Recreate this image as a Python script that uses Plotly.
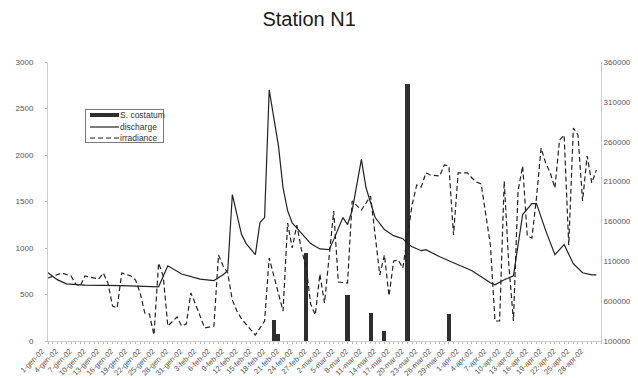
import plotly.graph_objects as go

# ---------------- data ----------------
bar_dates = ["2002-02-19", "2002-02-20", "2002-02-26", "2002-03-07", "2002-03-12",
             "2002-03-15", "2002-03-20", "2002-03-29"]
costatum = [230, 75, 950, 500, 300, 110, 2760, 290]

discharge_dates = [
    "2002-01-01", "2002-01-03", "2002-01-05", "2002-01-09", "2002-01-17", "2002-01-25",
    "2002-01-27", "2002-01-30", "2002-02-03", "2002-02-06", "2002-02-08", "2002-02-09",
    "2002-02-10", "2002-02-12", "2002-02-13", "2002-02-15", "2002-02-16", "2002-02-17",
    "2002-02-18", "2002-02-20", "2002-02-21", "2002-02-22", "2002-02-23", "2002-02-25",
    "2002-02-27", "2002-03-01", "2002-03-03", "2002-03-04", "2002-03-06", "2002-03-07",
    "2002-03-08", "2002-03-10", "2002-03-11", "2002-03-13", "2002-03-15", "2002-03-17",
    "2002-03-19", "2002-03-20", "2002-03-21", "2002-03-23", "2002-03-24", "2002-03-27",
    "2002-03-31", "2002-04-03", "2002-04-07", "2002-04-08", "2002-04-10", "2002-04-12",
    "2002-04-14", "2002-04-16", "2002-04-17", "2002-04-19", "2002-04-21", "2002-04-23",
    "2002-04-25", "2002-04-27", "2002-04-29", "2002-04-30"]
discharge = [
    734, 660, 615, 600, 595, 583,
    809, 720, 665, 650, 712, 755,
    1575, 1144, 1047, 928, 1273, 1327,
    2700, 2100, 1650, 1400, 1270, 1155,
    1047, 990, 982, 1090, 1327, 1252,
    1403, 1953, 1650, 1327, 1198, 1133,
    1100, 1047, 1014, 971, 982, 906,
    820, 755, 626, 604, 658, 701,
    1360, 1478, 1478, 1187, 928, 1036,
    831, 734, 712, 712]

irradiance_dates = [
    "2002-01-01", "2002-01-04", "2002-01-06", "2002-01-07", "2002-01-08", "2002-01-09",
    "2002-01-12", "2002-01-13", "2002-01-14", "2002-01-15", "2002-01-16", "2002-01-17",
    "2002-01-19", "2002-01-20", "2002-01-21", "2002-01-22", "2002-01-23", "2002-01-24",
    "2002-01-25", "2002-01-26", "2002-01-27", "2002-01-29", "2002-01-30", "2002-01-31",
    "2002-02-01", "2002-02-02", "2002-02-04", "2002-02-06", "2002-02-07", "2002-02-08",
    "2002-02-09", "2002-02-10", "2002-02-11", "2002-02-12", "2002-02-15", "2002-02-17",
    "2002-02-18", "2002-02-21", "2002-02-22", "2002-02-23", "2002-02-24", "2002-02-25",
    "2002-02-26", "2002-02-27", "2002-02-28", "2002-03-01", "2002-03-02", "2002-03-04",
    "2002-03-05", "2002-03-07", "2002-03-08", "2002-03-10", "2002-03-12", "2002-03-14",
    "2002-03-15", "2002-03-16", "2002-03-17", "2002-03-18", "2002-03-19", "2002-03-20",
    "2002-03-21", "2002-03-22", "2002-03-23", "2002-03-24", "2002-03-25", "2002-03-27",
    "2002-03-28", "2002-03-29", "2002-03-30", "2002-03-31", "2002-04-02", "2002-04-03",
    "2002-04-04", "2002-04-05", "2002-04-07", "2002-04-08", "2002-04-09", "2002-04-10",
    "2002-04-11", "2002-04-12", "2002-04-13", "2002-04-14", "2002-04-15", "2002-04-16",
    "2002-04-17", "2002-04-18", "2002-04-19", "2002-04-20", "2002-04-21", "2002-04-22",
    "2002-04-23", "2002-04-24", "2002-04-25", "2002-04-26", "2002-04-27", "2002-04-28",
    "2002-04-29", "2002-04-30"]
irradiance = [
    8900000, 9530000, 9150000, 8150000, 7900000, 9150000,
    8780000, 9530000, 8280000, 5390000, 5140000, 9530000,
    9150000, 8650000, 7020000, 4510000, 4390000, 1750000,
    10780000, 9150000, 2880000, 4010000, 2880000, 3130000,
    7020000, 5640000, 2630000, 2880000, 11790000, 10410000,
    9530000, 6140000, 4760000, 3760000, 1750000, 3510000,
    11410000, 4760000, 15800000, 12670000, 15550000, 12420000,
    10410000, 5640000, 4260000, 9400000, 5770000, 17310000,
    8400000, 8280000, 18560000, 17430000, 19190000, 9280000,
    11790000, 6650000, 11040000, 11160000, 10160000, 13920000,
    18060000, 20570000, 20320000, 22080000, 21820000, 21700000,
    23080000, 22950000, 14300000, 22080000, 22080000, 21450000,
    20950000, 20700000, 13040000, 3510000, 3510000, 21070000,
    10530000, 3510000, 19820000, 22950000, 14170000, 13920000,
    18940000, 25210000, 23330000, 22080000, 20190000, 26210000,
    26840000, 13040000, 27720000, 26840000, 18560000, 24210000,
    20820000, 22450000]

tick_dates = [
    "2002-01-01", "2002-01-04", "2002-01-07", "2002-01-10", "2002-01-13", "2002-01-16",
    "2002-01-19", "2002-01-22", "2002-01-25", "2002-01-28", "2002-01-31", "2002-02-03",
    "2002-02-06", "2002-02-09", "2002-02-12", "2002-02-15", "2002-02-18", "2002-02-21",
    "2002-02-24", "2002-02-27", "2002-03-02", "2002-03-05", "2002-03-08", "2002-03-11",
    "2002-03-14", "2002-03-17", "2002-03-20", "2002-03-23", "2002-03-26", "2002-03-29",
    "2002-04-01", "2002-04-04", "2002-04-07", "2002-04-10", "2002-04-13", "2002-04-16",
    "2002-04-19", "2002-04-22", "2002-04-25", "2002-04-28"]
tick_labels = [
    "1-gen-02", "4-gen-02", "7-gen-02", "10-gen-02", "13-gen-02", "16-gen-02",
    "19-gen-02", "22-gen-02", "25-gen-02", "28-gen-02", "31-gen-02", "3-feb-02",
    "6-feb-02", "9-feb-02", "12-feb-02", "15-feb-02", "18-feb-02", "21-feb-02",
    "24-feb-02", "27-feb-02", "2-mar-02", "5-mar-02", "8-mar-02", "11-mar-02",
    "14-mar-02", "17-mar-02", "20-mar-02", "23-mar-02", "26-mar-02", "29-mar-02",
    "1-apr-02", "4-apr-02", "7-apr-02", "10-apr-02", "13-apr-02", "16-apr-02",
    "19-apr-02", "22-apr-02", "25-apr-02", "28-apr-02"]

left_ticks = [0, 500, 1000, 1500, 2000, 2500, 3000]
right_ticks = [1000000, 6000000, 11000000, 16000000, 21000000, 26000000, 31000000, 36000000]

legend_names = ["S. costatum", "discharge", "irradiance"]

# ---------------- figure ----------------
FONT = "Liberation Sans, Arial, sans-serif"
INK = "#222222"
AXIS = "#b8b8b8"
TICKFONT = dict(family=FONT, size=8, color="#555555")

fig = go.Figure()
fig.add_trace(go.Bar(
    x=bar_dates, y=costatum, name=legend_names[0],
    marker=dict(color="#2e2e2e", line=dict(width=0)),
    width=0.9 * 86400000, yaxis="y", showlegend=False))
fig.add_trace(go.Scatter(
    x=discharge_dates, y=discharge, name=legend_names[1], mode="lines",
    line=dict(color=INK, width=1.2), yaxis="y", showlegend=False))
fig.add_trace(go.Scatter(
    x=irradiance_dates, y=irradiance, name=legend_names[2], mode="lines",
    line=dict(color=INK, width=1.2, dash="5px,3px"), yaxis="y2", showlegend=False))

# compact legend box (drawn in paper coordinates, like the spreadsheet legend)
W, H = 553.0, 279.0          # plot area size in px
def px(x):                   # pixel (from plot left) -> paper x
    return x / W
def py(y):                   # pixel (from plot top) -> paper y
    return 1 - y / H

rows_y = [py(53), py(65), py(76)]
sym_x0, sym_x1, txt_x = px(42), px(71), px(70)

shapes = [
    dict(type="rect", xref="paper", yref="paper",
         x0=sym_x0, x1=sym_x1, y0=rows_y[0] - 2 / H, y1=rows_y[0] + 2 / H,
         line=dict(width=0), fillcolor="#2e2e2e", layer="above"),
    dict(type="line", xref="paper", yref="paper",
         x0=sym_x0, x1=sym_x1, y0=rows_y[1], y1=rows_y[1],
         line=dict(color=INK, width=1.2), layer="above"),
    dict(type="line", xref="paper", yref="paper",
         x0=sym_x0, x1=sym_x1, y0=rows_y[2], y1=rows_y[2],
         line=dict(color=INK, width=1.2, dash="5px,3px"), layer="above"),
]

# legend frame: an empty annotation with a fixed pixel size and a border
annotations = [dict(text=" ", xref="paper", yref="paper", x=px(37), y=py(47),
                    xanchor="left", yanchor="top", showarrow=False,
                    width=77, height=32, borderpad=0,
                    bordercolor="#777777", borderwidth=1,
                    font=dict(family=FONT, size=8))]
annotations += [dict(text=name, xref="paper", yref="paper", x=txt_x, y=yy,
                     xanchor="left", yanchor="middle", showarrow=False,
                     font=dict(family=FONT, size=8.5, color="#333333"))
                for name, yy in zip(legend_names, rows_y)]

fig.update_layout(
    width=638, height=378,
    margin=dict(l=40, r=45, t=54, b=45, autoexpand=False),
    paper_bgcolor="white", plot_bgcolor="white",
    title=dict(text="Station N1", x=0.472, xanchor="center", y=0.972, yanchor="middle",
               font=dict(family=FONT, size=20, color="#1a1a1a")),
    showlegend=False,
    shapes=shapes, annotations=annotations,
    bargap=0,
    xaxis=dict(type="date", range=["2002-01-01", "2002-05-01"],
               tickmode="array", tickvals=tick_dates, ticktext=tick_labels,
               tickangle=-45, tickfont=dict(family=FONT, size=7.5, color="#555555"),
               ticklabelshift=-6,
               showgrid=False, zeroline=False,
               showline=True, linecolor="#cccccc", linewidth=1,
               ticks="outside", ticklen=2, tickcolor=AXIS,
               minor=dict(ticks="outside", dtick=86400000, ticklen=2, tickcolor=AXIS),
               automargin=False),
    yaxis=dict(range=[0, 3000], tickvals=left_ticks, tickfont=TICKFONT,
               ticklabelstandoff=10,
               showgrid=False, zeroline=False,
               showline=True, linecolor="#cccccc", linewidth=1,
               ticks="outside", ticklen=2, tickcolor=AXIS, automargin=False),
    yaxis2=dict(range=[1000000, 36000000], tickvals=right_ticks, tickformat="d",
                overlaying="y", side="right", tickfont=TICKFONT,
                showgrid=False, zeroline=False,
                showline=True, linecolor="#cccccc", linewidth=1,
                ticks="", automargin=False),
)

fig.write_html("out.html")
